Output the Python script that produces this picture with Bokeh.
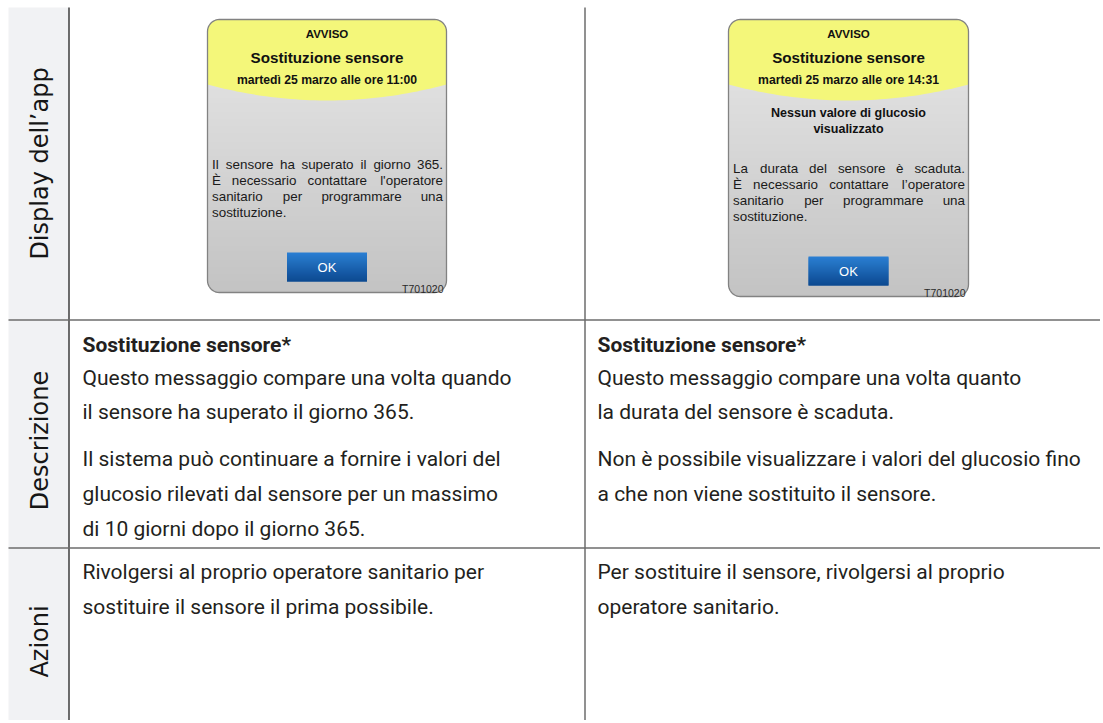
import math
import numpy as np
from bokeh.plotting import figure
from bokeh.models import Range1d
from bokeh.core.properties import value
from bokeh.embed import file_html
from bokeh.resources import INLINE

# ---------------- content ----------------
ROW_LABELS = ["Display dell’app", "Descrizione", "Azioni"]

SCREEN_ALERT = ["AVVISO", "AVVISO"]
SCREEN_TITLE = ["Sostituzione sensore", "Sostituzione sensore"]
SCREEN_DATE = ["martedì 25 marzo alle ore 11:00", "martedì 25 marzo alle ore 14:31"]
SCREEN_SUBTITLE = [[], ["Nessun valore di glucosio", "visualizzato"]]
SCREEN_BODY = [
    ["Il sensore ha superato il giorno 365.",
     "È necessario contattare l'operatore",
     "sanitario per programmare una",
     "sostituzione."],
    ["La durata del sensore è scaduta.",
     "È necessario contattare l’operatore",
     "sanitario per programmare una",
     "sostituzione."],
]
SCREEN_BUTTON = ["OK", "OK"]
SCREEN_CODE = ["T701020", "T701020"]

DESC_TITLE = ["Sostituzione sensore*", "Sostituzione sensore*"]
DESC_PARAGRAPHS = [
    [["Questo messaggio compare una volta quando",
      "il sensore ha superato il giorno 365."],
     ["Il sistema può continuare a fornire i valori del",
      "glucosio rilevati dal sensore per un massimo",
      "di 10 giorni dopo il giorno 365."]],
    [["Questo messaggio compare una volta quanto",
      "la durata del sensore è scaduta."],
     ["Non è possibile visualizzare i valori del glucosio fino",
      "a che non viene sostituito il sensore."]],
]
ACTION_LINES = [
    ["Rivolgersi al proprio operatore sanitario per",
     "sostituire il sensore il prima possibile."],
    ["Per sostituire il sensore, rivolgersi al proprio",
     "operatore sanitario."],
]

# ---------------- layout ----------------
W, H = 1100, 720
TABLE_LEFT, TABLE_TOP = 8, 7
LABEL_COL_RIGHT = 68.5
COL_DIVIDER = 584.5
ROW_LINES = [319.5, 547.5]
ROW_LABEL_Y = [163, 440, 641]
TEXT_X = [82, 597]

SCREENS = [(207, 446, 19, 292), (728, 968, 19, 296)]

INK = "#231f20"
LINE_COL = "#6d6d6d"

p = figure(width=W, height=H, x_range=Range1d(0, W), y_range=Range1d(H, 0),
           output_backend="svg", toolbar_location=None, min_border=0)
p.axis.visible = False
p.grid.visible = False
p.outline_line_color = None
p.background_fill_color = "white"
p.border_fill_color = "white"

# ----- table frame -----
p.quad(left=[TABLE_LEFT], right=[LABEL_COL_RIGHT], top=[TABLE_TOP], bottom=[H + 2],
       fill_color="#f1f2f4", line_color=None)
p.segment(x0=[LABEL_COL_RIGHT, COL_DIVIDER], y0=[TABLE_TOP, TABLE_TOP],
          x1=[LABEL_COL_RIGHT, COL_DIVIDER], y1=[H + 2, H + 2],
          line_color=["#3c3c3c", LINE_COL], line_width=1.5)
p.segment(x0=[TABLE_LEFT] * len(ROW_LINES), y0=ROW_LINES, x1=[W + 2] * len(ROW_LINES), y1=ROW_LINES,
          line_color=LINE_COL, line_width=1.6)

p.text(x=[39] * 3, y=ROW_LABEL_Y, text=ROW_LABELS, angle=math.pi / 2,
       text_align="center", text_baseline="middle",
       text_font=value("DejaVu Sans"), text_font_size="24px", text_color="#161616")


# ----- helpers -----
def lerp_hex(c0, c1, f):
    a = [int(c0[i:i + 2], 16) for i in (1, 3, 5)]
    b = [int(c1[i:i + 2], 16) for i in (1, 3, 5)]
    return "#%02x%02x%02x" % tuple(int(round(a[k] + (b[k] - a[k]) * f)) for k in range(3))


def rrect(l, r, t, b, rad, n=10):
    xs, ys = [], []
    for cx, cy, a0, a1 in [(l + rad, t + rad, 180, 270), (r - rad, t + rad, 270, 360),
                           (r - rad, b - rad, 0, 90), (l + rad, b - rad, 90, 180)]:
        for a in np.linspace(a0, a1, n):
            xs.append(cx + rad * math.cos(math.radians(a)))
            ys.append(cy + rad * math.sin(math.radians(a)))
    return xs, ys


def inset(y, t, b, rad):
    if y < t + rad:
        d = t + rad - y
    elif y > b - rad:
        d = y - (b - rad)
    else:
        return 0.0
    return rad - math.sqrt(max(rad * rad - d * d, 0.0))


def est_w(s, size):
    # rough Arial advance widths (em)
    w = 0.0
    for ch in s:
        if ch in "ijl'’|!.,:;":
            w += 0.24
        elif ch == " ":
            w += 0.28
        elif ch in "ftrI":
            w += 0.31
        elif ch == "m":
            w += 0.83
        elif ch == "w":
            w += 0.72
        elif ch in "csvxyzk":
            w += 0.50
        elif ch.isupper():
            w += 0.67
        else:
            w += 0.56
    return w * size


SCREEN_FONT = value("Liberation Sans")

# ----- app screens -----
RAD = 12
for k, (l, r, t, b) in enumerate(SCREENS):
    cx = (l + r) / 2
    # grey gradient body (1px overlapping strips on whole pixels -> no seams)
    step = 2
    lefts, rights, tops, bots, cols = [], [], [], [], []
    for y in range(t, b, step):
        ym = y + step / 2
        ins = max(inset(y, t, b, RAD), inset(min(y + step, b), t, b, RAD))
        lefts.append(l + ins)
        rights.append(r - ins)
        tops.append(y)
        bots.append(min(y + step + 1, b))
        cols.append(lerp_hex("#e8e8e8", "#c3c3c3", (ym - t) / (b - t)))
    p.quad(left=lefts, right=rights, top=tops, bottom=bots, fill_color=cols, line_color=None)

    # yellow header with curved bottom
    yedge = t + 65
    depth = 16
    hx, hy = [], []
    for ccx, ccy, a0, a1 in [(l + RAD, t + RAD, 180, 270), (r - RAD, t + RAD, 270, 360)]:
        for a in np.linspace(a0, a1, 10):
            hx.append(ccx + RAD * math.cos(math.radians(a)))
            hy.append(ccy + RAD * math.sin(math.radians(a)))
    for x in np.linspace(r, l, 50):
        hx.append(x)
        hy.append(yedge + depth * (1 - ((x - cx) / ((r - l) / 2)) ** 2))
    p.patch(hx, hy, fill_color="#f4f77a", line_color=None)

    # border
    bx, by = rrect(l, r, t, b, RAD)
    p.patch(bx, by, fill_color=None, line_color="#828282", line_width=1.3)

    # header texts
    p.text(x=[cx], y=[t + 14], text=[SCREEN_ALERT[k]], text_align="center", text_baseline="middle",
           text_font=SCREEN_FONT, text_font_style="bold", text_font_size="11.5px", text_color="#111111")
    p.text(x=[cx], y=[t + 38], text=[SCREEN_TITLE[k]], text_align="center", text_baseline="middle",
           text_font=SCREEN_FONT, text_font_style="bold", text_font_size="15.2px", text_color="#111111")
    p.text(x=[cx], y=[t + 60], text=[SCREEN_DATE[k]], text_align="center", text_baseline="middle",
           text_font=SCREEN_FONT, text_font_style="bold", text_font_size="12.2px", text_color="#111111")
    if SCREEN_SUBTITLE[k]:
        sub = SCREEN_SUBTITLE[k]
        p.text(x=[cx] * len(sub), y=[t + 93 + 16 * i for i in range(len(sub))], text=sub,
               text_align="center", text_baseline="middle",
               text_font=SCREEN_FONT, text_font_style="bold", text_font_size="12.5px",
               text_color="#111111")

    # justified body text
    body = SCREEN_BODY[k]
    fs = 13.4
    tl, tr = l + 4.5, r - 3.5
    by0 = b - 128
    wx, wy, wt, wa = [], [], [], []
    for i, line in enumerate(body):
        y = by0 + 16 * i
        words = line.split(" ")
        if i == len(body) - 1 or len(words) == 1:
            wx.append(tl); wy.append(y); wt.append(line); wa.append("left")
            continue
        widths = [est_w(wd, fs) for wd in words]
        gap = (tr - tl - sum(widths)) / (len(words) - 1)
        xpos = tl
        for j, wd in enumerate(words):
            if j == len(words) - 1:
                wx.append(tr); wa.append("right")
            else:
                wx.append(xpos); wa.append("left")
            wy.append(y); wt.append(wd)
            xpos += widths[j] + gap
    p.text(x=wx, y=wy, text=wt, text_align=wa, text_baseline="middle",
           text_font=SCREEN_FONT, text_font_size="%.1fpx" % fs, text_color="#1a1a1a")

    # OK button with blue gradient
    bl, br = cx - 40, cx + 40
    bt, bb = b - 40, b - 11
    n = bb - bt
    p.quad(left=[bl] * n, right=[br] * n, top=list(range(bt, bb)),
           bottom=[min(y + 2, bb) for y in range(bt, bb)],
           fill_color=[lerp_hex("#2a7fd2", "#0d4a91", i / (n - 1)) for i in range(n)], line_color=None)
    p.text(x=[cx], y=[(bt + bb) / 2], text=[SCREEN_BUTTON[k]], text_align="center", text_baseline="middle",
           text_font=SCREEN_FONT, text_font_size="13px", text_color="white")
    p.text(x=[r - 3], y=[b - 4], text=[SCREEN_CODE[k]], text_align="right", text_baseline="middle",
           text_font=SCREEN_FONT, text_font_size="10.5px", text_color="#2a2a2a")

# ----- description & actions cells -----
CELL_FONT = value("Roboto")
CELL_SIZE = "21px"
DESC_TITLE_Y = 344
DESC_LINE_Y = [[377, 411], [458, 493, 528]]
ACTION_Y = [571, 606]

for k in range(2):
    p.text(x=[TEXT_X[k]], y=[DESC_TITLE_Y], text=[DESC_TITLE[k]], text_baseline="middle",
           text_font=CELL_FONT, text_font_style="bold", text_font_size=CELL_SIZE, text_color=INK)
    xs, ys, ts = [], [], []
    for para, ylist in zip(DESC_PARAGRAPHS[k], DESC_LINE_Y):
        for line, y in zip(para, ylist):
            xs.append(TEXT_X[k]); ys.append(y); ts.append(line)
    for line, y in zip(ACTION_LINES[k], ACTION_Y):
        xs.append(TEXT_X[k]); ys.append(y); ts.append(line)
    p.text(x=xs, y=ys, text=ts, text_baseline="middle",
           text_font=CELL_FONT, text_font_size=CELL_SIZE, text_color=INK)

open("out.html", "w").write(file_html(p, INLINE))
